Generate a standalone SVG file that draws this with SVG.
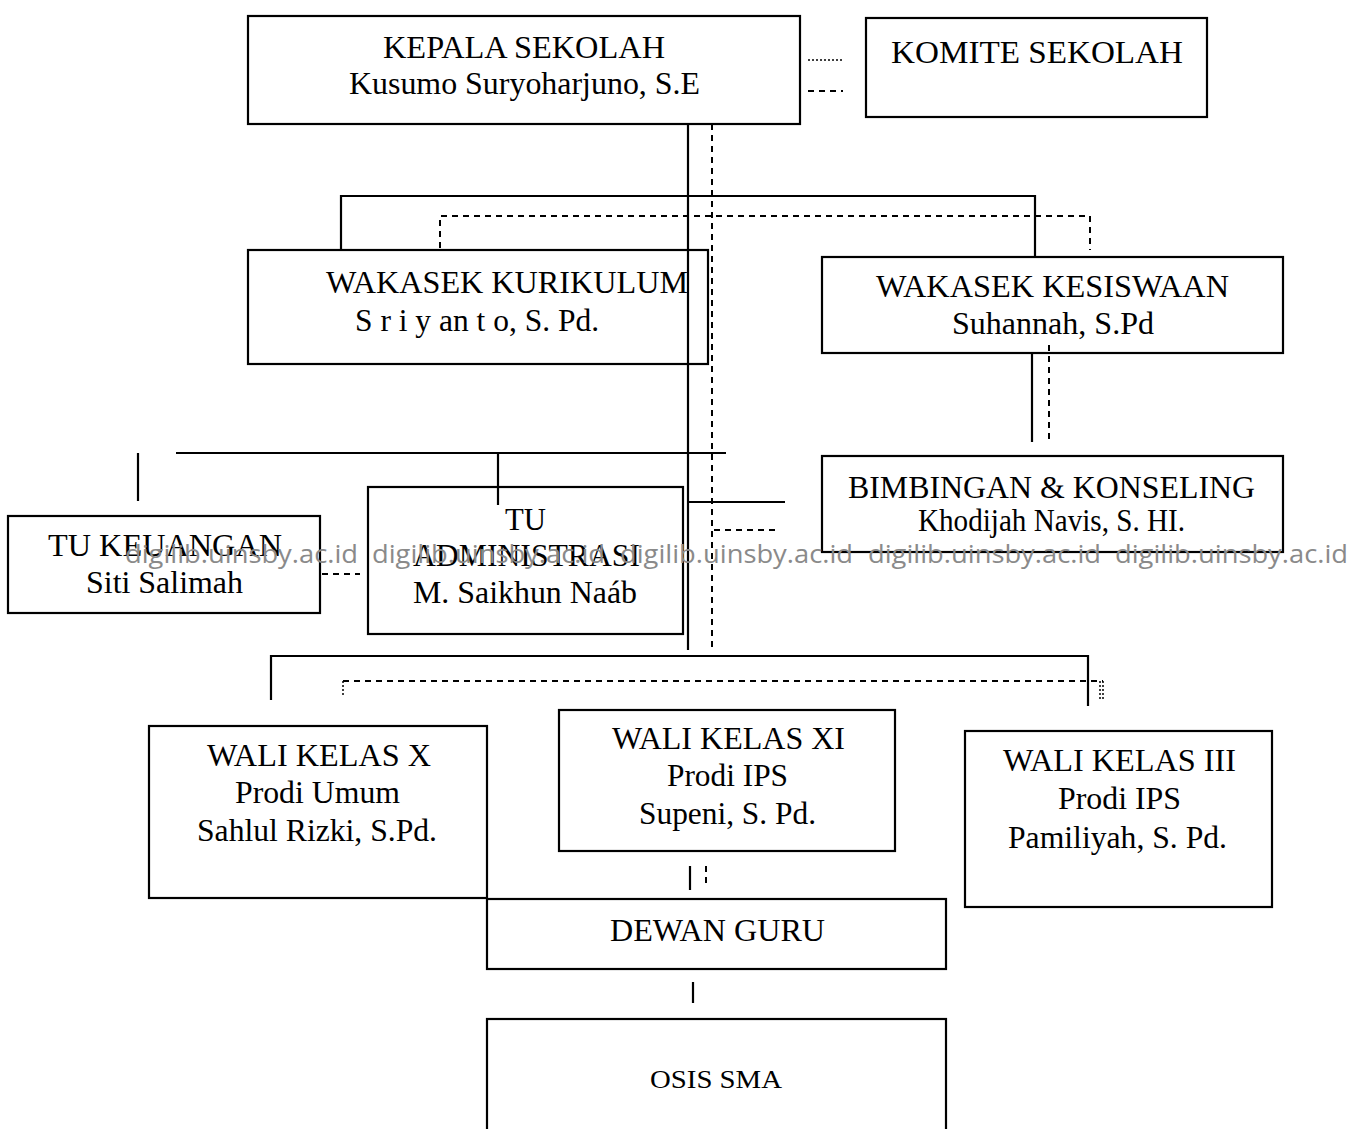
<svg xmlns="http://www.w3.org/2000/svg" width="1353" height="1129" viewBox="0 0 1353 1129">
<style>
.box{fill:none;stroke:#000;stroke-width:2.2}
.t{font-family:"Liberation Serif","Times New Roman",serif;font-size:32px;fill:#000}
.s{stroke:#000;stroke-width:2.2;fill:none}
.d{stroke:#000;stroke-width:2;fill:none;stroke-dasharray:6,5}
.o{stroke:#000;stroke-width:1.5;fill:none;stroke-dasharray:2,2}
.w{font-family:"Open Sans","Liberation Sans",sans-serif;font-size:26px;fill:#8a8a8a}
</style>
<rect width="1353" height="1129" fill="#fff"/>
<g id="connectors">
<path class="o" d="M808 60H843"/>
<path class="d" d="M808 91H843"/>
<path class="s" d="M688 124V650"/>
<path class="d" d="M712 124V650"/>
<path class="s" d="M341 249V196H1035V257"/>
<path class="d" d="M440 248V216H1090V250"/>
<path class="s" d="M1032 353V442"/>
<path class="d" d="M1049 345V440"/>
<path class="s" d="M176 453H726"/>
<path class="s" d="M138 453V501"/>
<path class="s" d="M498 453V505"/>
<path class="s" d="M688 502H785"/>
<path class="d" d="M714 530H780"/>
<path class="d" d="M322 574H360"/>
<path class="s" d="M271 700V656H1088V706"/>
<path class="d" d="M343 681H1103"/>
<path class="o" d="M343 681V697M1100 681V700M1103 681V700"/>
<path class="s" d="M690 866V890"/>
<path class="d" d="M706 866V888"/>
<path class="s" d="M693 982V1003"/>
</g>
<g id="kepala"><rect class="box" x="248" y="16" width="552" height="108"/>
<text class="t" x="383" y="58" textLength="282" lengthAdjust="spacingAndGlyphs">KEPALA SEKOLAH</text>
<text class="t" x="349" y="94" textLength="351" lengthAdjust="spacingAndGlyphs">Kusumo Suryoharjuno, S.E</text></g>
<g id="komite"><rect class="box" x="866" y="18" width="341" height="99"/>
<text class="t" x="891" y="63" textLength="292" lengthAdjust="spacingAndGlyphs">KOMITE SEKOLAH</text></g>
<g id="kurikulum"><rect class="box" x="248" y="250" width="460" height="114"/>
<text class="t" x="326" y="293" textLength="362" lengthAdjust="spacingAndGlyphs">WAKASEK KURIKULUM</text>
<text class="t" x="355" y="331" textLength="244" lengthAdjust="spacingAndGlyphs">S r i y an t o, S. Pd.</text></g>
<g id="kesiswaan"><rect class="box" x="822" y="257" width="461" height="96"/>
<text class="t" x="876" y="297" textLength="353" lengthAdjust="spacingAndGlyphs">WAKASEK KESISWAAN</text>
<text class="t" x="952" y="334" textLength="202" lengthAdjust="spacingAndGlyphs">Suhannah, S.Pd</text></g>
<g id="bk"><rect class="box" x="822" y="456" width="461" height="96"/>
<text class="t" x="848" y="498" textLength="407" lengthAdjust="spacingAndGlyphs">BIMBINGAN &amp; KONSELING</text>
<text class="t" x="918" y="531" textLength="267" lengthAdjust="spacingAndGlyphs">Khodijah Navis, S. HI.</text></g>
<g id="tuadm"><rect class="box" x="368" y="487" width="315" height="147"/>
<text class="t" x="505" y="530" textLength="41" lengthAdjust="spacingAndGlyphs">TU</text>
<text class="t" x="413" y="566" textLength="227" lengthAdjust="spacingAndGlyphs">ADMINISTRASI</text>
<text class="t" x="413" y="603" textLength="224" lengthAdjust="spacingAndGlyphs">M. Saikhun Naáb</text></g>
<g id="tukeu"><rect class="box" x="8" y="516" width="312" height="97"/>
<text class="t" x="48" y="556" textLength="234" lengthAdjust="spacingAndGlyphs">TU KEUANGAN</text>
<text class="t" x="86" y="593" textLength="157" lengthAdjust="spacingAndGlyphs">Siti Salimah</text></g>
<g id="walix"><rect class="box" x="149" y="726" width="338" height="172"/>
<text class="t" x="207" y="766" textLength="224" lengthAdjust="spacingAndGlyphs">WALI KELAS X</text>
<text class="t" x="235" y="803" textLength="165" lengthAdjust="spacingAndGlyphs">Prodi Umum</text>
<text class="t" x="197" y="841" textLength="240" lengthAdjust="spacingAndGlyphs">Sahlul Rizki, S.Pd.</text></g>
<g id="walixi"><rect class="box" x="559" y="710" width="336" height="141"/>
<text class="t" x="612" y="749" textLength="233" lengthAdjust="spacingAndGlyphs">WALI KELAS XI</text>
<text class="t" x="667" y="786" textLength="121" lengthAdjust="spacingAndGlyphs">Prodi IPS</text>
<text class="t" x="639" y="824" textLength="177" lengthAdjust="spacingAndGlyphs">Supeni, S. Pd.</text></g>
<g id="waliiii"><rect class="box" x="965" y="731" width="307" height="176"/>
<text class="t" x="1003" y="771" textLength="233" lengthAdjust="spacingAndGlyphs">WALI KELAS III</text>
<text class="t" x="1058" y="809" textLength="123" lengthAdjust="spacingAndGlyphs">Prodi IPS</text>
<text class="t" x="1008" y="848" textLength="219" lengthAdjust="spacingAndGlyphs">Pamiliyah, S. Pd.</text></g>
<g id="dewan"><rect class="box" x="487" y="899" width="459" height="70"/>
<text class="t" x="610" y="941" textLength="215" lengthAdjust="spacingAndGlyphs">DEWAN GURU</text></g>
<g id="osis"><rect class="box" x="487" y="1019" width="459" height="115"/>
<text class="t" x="650" y="1088" textLength="132" lengthAdjust="spacingAndGlyphs" style="font-size:26px">OSIS SMA</text></g>
<g id="watermark">
<text class="w" x="125" y="563" textLength="233" lengthAdjust="spacingAndGlyphs">digilib.uinsby.ac.id</text>
<text class="w" x="372" y="563" textLength="233" lengthAdjust="spacingAndGlyphs">digilib.uinsby.ac.id</text>
<text class="w" x="620" y="563" textLength="233" lengthAdjust="spacingAndGlyphs">digilib.uinsby.ac.id</text>
<text class="w" x="868" y="563" textLength="233" lengthAdjust="spacingAndGlyphs">digilib.uinsby.ac.id</text>
<text class="w" x="1115" y="563" textLength="233" lengthAdjust="spacingAndGlyphs">digilib.uinsby.ac.id</text>
</g>
</svg>
